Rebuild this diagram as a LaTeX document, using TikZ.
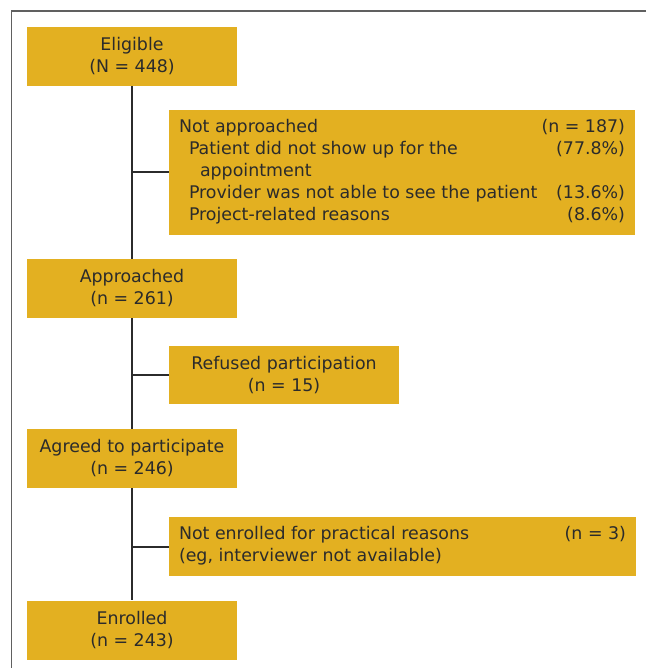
\documentclass[tikz,border=0pt]{standalone}
\usepackage{fontspec}
\setmainfont{DejaVu Sans}
\usepackage{array}
\definecolor{gold}{HTML}{E3B021}
\definecolor{ink}{HTML}{2B2B2B}
\definecolor{framegray}{HTML}{606060}
\begin{document}
\begin{tikzpicture}[x=1pt,y=-1pt,
  box/.style={fill=gold, text=ink, inner sep=0pt, align=center,
              font=\fontsize{17.4}{22}\selectfont},
  smallbox/.style={box, minimum width=210pt, minimum height=59pt},
  link/.style={draw=ink, line width=2pt},
  frameline/.style={draw=framegray, line width=1.5pt}]
\useasboundingbox (0,0) rectangle (646,668);
\draw[frameline] (646,11) -- (11.5,11) -- (11.5,668);

\node[smallbox] (elig) at (132,56.5) {Eligible\\(N = 448)};
\node[smallbox] (appr) at (132,288.5) {Approached\\(n = 261)};
\node[smallbox] (agree) at (132,458.5) {Agreed to participate\\(n = 246)};
\node[smallbox] (enrol) at (132,630) {Enrolled\\(n = 243)};

\node[box, minimum width=466pt, minimum height=125pt] (notapp) at (402,172.5)
 {\begin{tabular*}{446pt}{@{}l@{\extracolsep{\fill}}r@{}}
  Not approached & (n = 187)\\
  \hspace*{10pt}Patient did not show up for the & (77.8\%)\\
  \hspace*{21pt}appointment & \\
  \hspace*{10pt}Provider was not able to see the patient & (13.6\%)\\
  \hspace*{10pt}Project-related reasons & (8.6\%)
  \end{tabular*}};

\node[box, minimum width=230pt, minimum height=58pt] (refuse) at (284,375)
 {Refused participation\\(n = 15)};

\node[box, minimum width=467pt, minimum height=59pt] (notenr) at (402.5,546.5)
 {\begin{tabular*}{447pt}{@{}l@{\extracolsep{\fill}}r@{}}
  Not enrolled for practical reasons & (n = 3)\\
  (eg, interviewer not available) &
  \end{tabular*}};

\draw[link] (elig.south) -- (appr.north);
\draw[link] (appr.south) -- (agree.north);
\draw[link] (agree.south) -- (enrol.north);
\draw[link] (elig.south |- notapp.west) -- (notapp.west);
\draw[link] (elig.south |- refuse.west) -- (refuse.west);
\draw[link] (elig.south |- notenr.west) -- (notenr.west);
\end{tikzpicture}
\end{document}
